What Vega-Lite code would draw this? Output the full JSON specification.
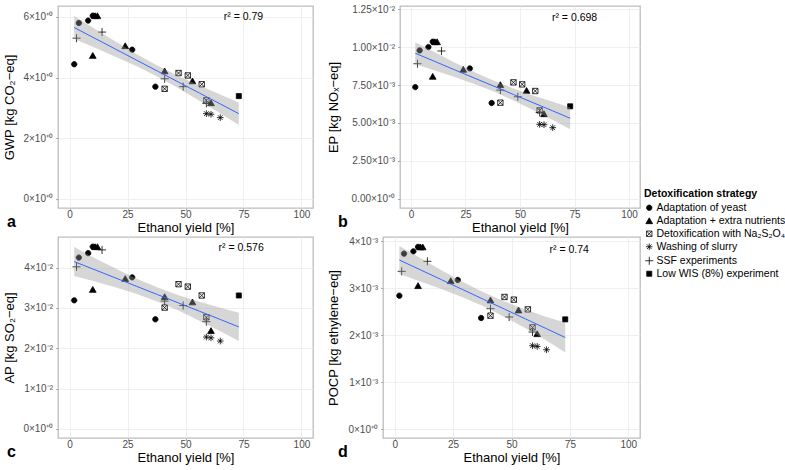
{
  "$schema": "https://vega.github.io/schema/vega-lite/v6.json",
  "padding": {"left": 2, "top": 3, "right": 0, "bottom": 0},
  "background": "white",
  "config": {
    "font": "Liberation Sans",
    "view": {"stroke": "#bdbdbd", "strokeWidth": 1.3},
    "axis": {"labelFont": "Liberation Sans", "titleFont": "Liberation Sans", "labelFontSize": 10, "labelColor": "#4d4d4d", "titleFontSize": 13, "titleFontWeight": "normal", "titleColor": "#000000", "gridColor": "#ebebeb", "gridWidth": 0.8, "domain": false, "tickColor": "#999999", "tickSize": 2.5, "tickWidth": 0.8},
    "axisX": {"labelPadding": -1, "titlePadding": 0, "minExtent": 13, "maxExtent": 13},
    "axisY": {"labelPadding": 3},
    "legend": {"titleFont": "Liberation Sans", "labelFont": "Liberation Sans", "titleFontSize": 10.5, "titleFontWeight": "bold", "titleColor": "#000000", "labelFontSize": 10.5, "labelColor": "#000000", "symbolSize": 45, "rowPadding": 2, "titlePadding": 3, "labelOffset": 2, "symbolStrokeWidth": 0.8},
    "title": {"font": "Liberation Sans", "fontSize": 16, "fontWeight": "bold", "color": "#000000"}
  },
  "datasets": {
    "pts": [
      {"strategy": "Adaptation of yeast", "yield": 2, "GWP": 4.44, "EP": 0.00737, "AP": 0.0319, "POCP": 0.00284},
      {"strategy": "Adaptation of yeast", "yield": 4, "GWP": 5.80, "EP": 0.00979, "AP": 0.0425, "POCP": 0.003736},
      {"strategy": "Adaptation of yeast", "yield": 8, "GWP": 5.88, "EP": 0.01001, "AP": 0.0436, "POCP": 0.003785},
      {"strategy": "Adaptation of yeast", "yield": 10, "GWP": 6.04, "EP": 0.01036, "AP": 0.0452, "POCP": 0.003879},
      {"strategy": "Adaptation of yeast", "yield": 27, "GWP": 4.92, "EP": 0.00860, "AP": 0.0376, "POCP": 0.003175},
      {"strategy": "Adaptation of yeast", "yield": 37, "GWP": 3.70, "EP": 0.00632, "AP": 0.0272, "POCP": 0.002365},
      {"strategy": "Adaptation + extra nutrients", "yield": 10, "GWP": 4.73, "EP": 0.00808, "AP": 0.0346, "POCP": 0.003054},
      {"strategy": "Adaptation + extra nutrients", "yield": 11, "GWP": 6.04, "EP": 0.01036, "AP": 0.0452, "POCP": 0.003879},
      {"strategy": "Adaptation + extra nutrients", "yield": 12, "GWP": 6.04, "EP": 0.01036, "AP": 0.0452, "POCP": 0.003879},
      {"strategy": "Adaptation + extra nutrients", "yield": 24, "GWP": 5.05, "EP": 0.00854, "AP": 0.0373, "POCP": 0.00316},
      {"strategy": "Adaptation + extra nutrients", "yield": 41, "GWP": 4.22, "EP": 0.00753, "AP": 0.0328, "POCP": 0.002749},
      {"strategy": "Adaptation + extra nutrients", "yield": 53, "GWP": 3.89, "EP": 0.00715, "AP": 0.0315, "POCP": 0.002536},
      {"strategy": "Adaptation + extra nutrients", "yield": 61, "GWP": 3.17, "EP": 0.00561, "AP": 0.0244, "POCP": 0.002031},
      {"strategy": "Detoxification with Na₂S₂O₄", "yield": 41, "GWP": 3.63, "EP": 0.00634, "AP": 0.0301, "POCP": 0.002415},
      {"strategy": "Detoxification with Na₂S₂O₄", "yield": 47, "GWP": 4.15, "EP": 0.00768, "AP": 0.0359, "POCP": 0.002813},
      {"strategy": "Detoxification with Na₂S₂O₄", "yield": 51, "GWP": 4.07, "EP": 0.00755, "AP": 0.0353, "POCP": 0.002756},
      {"strategy": "Detoxification with Na₂S₂O₄", "yield": 57, "GWP": 3.78, "EP": 0.00711, "AP": 0.0331, "POCP": 0.002549},
      {"strategy": "Detoxification with Na₂S₂O₄", "yield": 59, "GWP": 3.25, "EP": 0.00583, "AP": 0.0277, "POCP": 0.002165},
      {"strategy": "Washing of slurry", "yield": 59, "GWP": 2.81, "EP": 0.00491, "AP": 0.0228, "POCP": 0.001775},
      {"strategy": "Washing of slurry", "yield": 61, "GWP": 2.79, "EP": 0.00489, "AP": 0.0226, "POCP": 0.00176},
      {"strategy": "Washing of slurry", "yield": 65, "GWP": 2.68, "EP": 0.00469, "AP": 0.0218, "POCP": 0.00169},
      {"strategy": "SSF experiments", "yield": 3, "GWP": 5.30, "EP": 0.00891, "AP": 0.0402, "POCP": 0.003359},
      {"strategy": "SSF experiments", "yield": 14, "GWP": 5.50, "EP": 0.00975, "AP": 0.0444, "POCP": 0.003572},
      {"strategy": "SSF experiments", "yield": 41, "GWP": 3.96, "EP": 0.00717, "AP": 0.0317, "POCP": 0.002564},
      {"strategy": "SSF experiments", "yield": 49, "GWP": 3.70, "EP": 0.00673, "AP": 0.0306, "POCP": 0.002387},
      {"strategy": "SSF experiments", "yield": 59, "GWP": 3.15, "EP": 0.0057, "AP": 0.0266, "POCP": 0.002067},
      {"strategy": "Low WIS (8%) experiment", "yield": 73, "GWP": 3.39, "EP": 0.00610, "AP": 0.0331, "POCP": 0.002336}
    ],
    "fit": [
      {"yield": 2, "GWP_fit": 5.65, "GWP_lo": 5.27, "GWP_hi": 6.03, "EP_fit": 0.00960, "EP_lo": 0.00887, "EP_hi": 0.01033, "AP_fit": 0.0415, "AP_lo": 0.0379, "AP_hi": 0.0451, "POCP_fit": 0.0036, "POCP_lo": 0.0033, "POCP_hi": 0.0039},
      {"yield": 11, "GWP_fit": 5.29, "GWP_lo": 4.98, "GWP_hi": 5.60, "EP_fit": 0.00906, "EP_lo": 0.00846, "EP_hi": 0.00966, "AP_fit": 0.03945, "AP_lo": 0.03655, "AP_hi": 0.04235, "POCP_fit": 0.003391, "POCP_lo": 0.003141, "POCP_hi": 0.003641},
      {"yield": 20, "GWP_fit": 4.93, "GWP_lo": 4.68, "GWP_hi": 5.18, "EP_fit": 0.00851, "EP_lo": 0.00803, "EP_hi": 0.00899, "AP_fit": 0.0374, "AP_lo": 0.03505, "AP_hi": 0.03975, "POCP_fit": 0.003182, "POCP_lo": 0.002982, "POCP_hi": 0.003382},
      {"yield": 29, "GWP_fit": 4.57, "GWP_lo": 4.37, "GWP_hi": 4.77, "EP_fit": 0.00797, "EP_lo": 0.00757, "EP_hi": 0.00837, "AP_fit": 0.03535, "AP_lo": 0.03345, "AP_hi": 0.03725, "POCP_fit": 0.002973, "POCP_lo": 0.002808, "POCP_hi": 0.003138},
      {"yield": 38, "GWP_fit": 4.21, "GWP_lo": 4.03, "GWP_hi": 4.39, "EP_fit": 0.00743, "EP_lo": 0.00707, "EP_hi": 0.00779, "AP_fit": 0.0333, "AP_lo": 0.03155, "AP_hi": 0.03505, "POCP_fit": 0.002763, "POCP_lo": 0.002613, "POCP_hi": 0.002913},
      {"yield": 47, "GWP_fit": 3.85, "GWP_lo": 3.65, "GWP_hi": 4.05, "EP_fit": 0.00688, "EP_lo": 0.00648, "EP_hi": 0.00728, "AP_fit": 0.03125, "AP_lo": 0.02935, "AP_hi": 0.03315, "POCP_fit": 0.002554, "POCP_lo": 0.002389, "POCP_hi": 0.002719},
      {"yield": 56, "GWP_fit": 3.49, "GWP_lo": 3.24, "GWP_hi": 3.74, "EP_fit": 0.00634, "EP_lo": 0.00586, "EP_hi": 0.00682, "AP_fit": 0.0292, "AP_lo": 0.02685, "AP_hi": 0.03155, "POCP_fit": 0.002345, "POCP_lo": 0.002145, "POCP_hi": 0.002545},
      {"yield": 65, "GWP_fit": 3.13, "GWP_lo": 2.82, "GWP_hi": 3.44, "EP_fit": 0.00580, "EP_lo": 0.00520, "EP_hi": 0.00640, "AP_fit": 0.02715, "AP_lo": 0.02425, "AP_hi": 0.03005, "POCP_fit": 0.002136, "POCP_lo": 0.001886, "POCP_hi": 0.002386},
      {"yield": 73, "GWP_fit": 2.81, "GWP_lo": 2.44, "GWP_hi": 3.18, "EP_fit": 0.00531, "EP_lo": 0.00459, "EP_hi": 0.00603, "AP_fit": 0.0253, "AP_lo": 0.0218, "AP_hi": 0.0288, "POCP_fit": 0.00195, "POCP_lo": 0.00163, "POCP_hi": 0.00227}
    ]
  },
  "columns": 2,
  "align": {"column": "none", "row": "all"},
  "bounds": "full",
  "spacing": {"column": 12, "row": 0},
  "concat": [
    {
      "width": 255, "height": 202,
      "title": {"text": "a", "orient": "bottom", "anchor": "start", "frame": "bounds", "offset": -20, "dx": 4},
      "layer": [
        {"data": {"name": "pts"},
         "mark": {"type": "point", "filled": true, "opacity": 1, "strokeWidth": 0.8, "size": 45},
         "encoding": {
           "x": {"field": "yield", "type": "quantitative", "title": "Ethanol yield [%]", "scale": {"domain": [-5, 105], "nice": false, "zero": false}, "axis": {"values": [0, 25, 50, 75, 100]}},
           "y": {"field": "GWP", "type": "quantitative", "title": "GWP [kg CO₂−eq]", "scale": {"domain": [-0.3, 6.36], "nice": false, "zero": false}, "axis": {"values": [0, 2, 4, 6], "labelExpr": "datum.value + '×10⁺⁰'", "minExtent": 42, "maxExtent": 42, "titlePadding": 0}},
           "shape": {"field": "strategy", "type": "nominal", "title": "Detoxification strategy", "scale": {"domain": ["Adaptation of yeast", "Adaptation + extra nutrients", "Detoxification with Na₂S₂O₄", "Washing of slurry", "SSF experiments", "Low WIS (8%) experiment"], "range": ["M0.8,0A0.8,0.8 0 1,1 -0.8,0A0.8,0.8 0 1,1 0.8,0Z", "triangle-up", "M-0.8,-0.8H0.8V0.8H-0.8Z M-0.8,-0.8L0.8,0.8 M-0.8,0.8L0.8,-0.8", "M0,-1V1 M-1,0H1 M-0.7,-0.7L0.7,0.7 M-0.7,0.7L0.7,-0.7", "M0,-1.2V1.2 M-1.2,0H1.2", "M-0.75,-0.75H0.75V0.75H-0.75Z"]}, "legend": {"orient": "none", "legendX": 586, "legendY": 183}},
           "fill": {"field": "strategy", "type": "nominal", "title": "Detoxification strategy", "scale": {"domain": ["Adaptation of yeast", "Adaptation + extra nutrients", "Detoxification with Na₂S₂O₄", "Washing of slurry", "SSF experiments", "Low WIS (8%) experiment"], "range": ["#000000", "#000000", "transparent", "transparent", "transparent", "#000000"]}, "legend": {"orient": "none", "legendX": 586, "legendY": 183}},
           "stroke": {"field": "strategy", "type": "nominal", "title": "Detoxification strategy", "scale": {"domain": ["Adaptation of yeast", "Adaptation + extra nutrients", "Detoxification with Na₂S₂O₄", "Washing of slurry", "SSF experiments", "Low WIS (8%) experiment"], "range": ["#000000", "#000000", "#000000", "#000000", "#000000", "#000000"]}, "legend": {"orient": "none", "legendX": 586, "legendY": 183}}
         }},
        {"data": {"name": "fit"},
         "mark": {"type": "area", "color": "#999999", "opacity": 0.4},
         "encoding": {"x": {"field": "yield", "type": "quantitative", "title": "Ethanol yield [%]"}, "y": {"field": "GWP_lo", "type": "quantitative", "title": "GWP [kg CO₂−eq]"}, "y2": {"field": "GWP_hi"}}},
        {"data": {"name": "fit"},
         "mark": {"type": "line", "color": "#3366FF", "strokeWidth": 1},
         "encoding": {"x": {"field": "yield", "type": "quantitative", "title": "Ethanol yield [%]"}, "y": {"field": "GWP_fit", "type": "quantitative", "title": "GWP [kg CO₂−eq]"}}},
        {"data": {"values": [{"label": "r² = 0.79"}]},
         "mark": {"type": "text", "fontSize": 10.5, "font": "Liberation Sans", "color": "#000000", "align": "center", "baseline": "middle"},
         "encoding": {"x": {"datum": 75}, "y": {"datum": 6.0}, "text": {"field": "label"}}}
      ]
    },
    {
      "width": 240, "height": 202,
      "title": {"text": "b", "orient": "bottom", "anchor": "start", "frame": "bounds", "offset": -20, "dx": 11},
      "layer": [
        {"data": {"name": "pts"},
         "mark": {"type": "point", "filled": true, "opacity": 1, "strokeWidth": 0.8, "size": 45},
         "encoding": {
           "x": {"field": "yield", "type": "quantitative", "title": "Ethanol yield [%]", "scale": {"domain": [-5, 105], "nice": false, "zero": false}, "axis": {"values": [0, 25, 50, 75, 100]}},
           "y": {"field": "EP", "type": "quantitative", "title": "EP [kg NOₓ−eq]", "scale": {"domain": [-0.00061, 0.01272], "nice": false, "zero": false}, "axis": {"values": [0, 0.0025, 0.005, 0.0075, 0.01, 0.0125], "labelExpr": "datum.value == 0 ? '0.00×10⁺⁰' : datum.value < 0.0099 ? format(datum.value*1000, '.2f') + '×10⁻³' : format(datum.value*100, '.2f') + '×10⁻²'", "minExtent": 60, "maxExtent": 60, "titlePadding": 0}},
           "shape": {"field": "strategy", "type": "nominal", "title": "Detoxification strategy", "scale": {"domain": ["Adaptation of yeast", "Adaptation + extra nutrients", "Detoxification with Na₂S₂O₄", "Washing of slurry", "SSF experiments", "Low WIS (8%) experiment"], "range": ["M0.8,0A0.8,0.8 0 1,1 -0.8,0A0.8,0.8 0 1,1 0.8,0Z", "triangle-up", "M-0.8,-0.8H0.8V0.8H-0.8Z M-0.8,-0.8L0.8,0.8 M-0.8,0.8L0.8,-0.8", "M0,-1V1 M-1,0H1 M-0.7,-0.7L0.7,0.7 M-0.7,0.7L0.7,-0.7", "M0,-1.2V1.2 M-1.2,0H1.2", "M-0.75,-0.75H0.75V0.75H-0.75Z"]}, "legend": {"orient": "none", "legendX": 586, "legendY": 183}},
           "fill": {"field": "strategy", "type": "nominal", "title": "Detoxification strategy", "scale": {"domain": ["Adaptation of yeast", "Adaptation + extra nutrients", "Detoxification with Na₂S₂O₄", "Washing of slurry", "SSF experiments", "Low WIS (8%) experiment"], "range": ["#000000", "#000000", "transparent", "transparent", "transparent", "#000000"]}, "legend": {"orient": "none", "legendX": 586, "legendY": 183}},
           "stroke": {"field": "strategy", "type": "nominal", "title": "Detoxification strategy", "scale": {"domain": ["Adaptation of yeast", "Adaptation + extra nutrients", "Detoxification with Na₂S₂O₄", "Washing of slurry", "SSF experiments", "Low WIS (8%) experiment"], "range": ["#000000", "#000000", "#000000", "#000000", "#000000", "#000000"]}, "legend": {"orient": "none", "legendX": 586, "legendY": 183}}
         }},
        {"data": {"name": "fit"},
         "mark": {"type": "area", "color": "#999999", "opacity": 0.4},
         "encoding": {"x": {"field": "yield", "type": "quantitative", "title": "Ethanol yield [%]"}, "y": {"field": "EP_lo", "type": "quantitative", "title": "EP [kg NOₓ−eq]"}, "y2": {"field": "EP_hi"}}},
        {"data": {"name": "fit"},
         "mark": {"type": "line", "color": "#3366FF", "strokeWidth": 1},
         "encoding": {"x": {"field": "yield", "type": "quantitative", "title": "Ethanol yield [%]"}, "y": {"field": "EP_fit", "type": "quantitative", "title": "EP [kg NOₓ−eq]"}}},
        {"data": {"values": [{"label": "r² = 0.698"}]},
         "mark": {"type": "text", "fontSize": 10.5, "font": "Liberation Sans", "color": "#000000", "align": "center", "baseline": "middle"},
         "encoding": {"x": {"datum": 75}, "y": {"datum": 0.01194}, "text": {"field": "label"}}}
      ]
    },
    {
      "width": 255, "height": 201,
      "title": {"text": "c", "orient": "bottom", "anchor": "start", "frame": "bounds", "offset": -20, "dx": 4},
      "layer": [
        {"data": {"name": "pts"},
         "mark": {"type": "point", "filled": true, "opacity": 1, "strokeWidth": 0.8, "size": 45},
         "encoding": {
           "x": {"field": "yield", "type": "quantitative", "title": "Ethanol yield [%]", "scale": {"domain": [-5, 105], "nice": false, "zero": false}, "axis": {"values": [0, 25, 50, 75, 100]}},
           "y": {"field": "AP", "type": "quantitative", "title": "AP [kg SO₂−eq]", "scale": {"domain": [-0.00224, 0.0476], "nice": false, "zero": false}, "axis": {"values": [0, 0.01, 0.02, 0.03, 0.04], "labelExpr": "datum.value == 0 ? '0×10⁺⁰' : format(datum.value*100, '.0f') + '×10⁻²'", "minExtent": 42, "maxExtent": 42, "titlePadding": 0}},
           "shape": {"field": "strategy", "type": "nominal", "title": "Detoxification strategy", "scale": {"domain": ["Adaptation of yeast", "Adaptation + extra nutrients", "Detoxification with Na₂S₂O₄", "Washing of slurry", "SSF experiments", "Low WIS (8%) experiment"], "range": ["M0.8,0A0.8,0.8 0 1,1 -0.8,0A0.8,0.8 0 1,1 0.8,0Z", "triangle-up", "M-0.8,-0.8H0.8V0.8H-0.8Z M-0.8,-0.8L0.8,0.8 M-0.8,0.8L0.8,-0.8", "M0,-1V1 M-1,0H1 M-0.7,-0.7L0.7,0.7 M-0.7,0.7L0.7,-0.7", "M0,-1.2V1.2 M-1.2,0H1.2", "M-0.75,-0.75H0.75V0.75H-0.75Z"]}, "legend": {"orient": "none", "legendX": 586, "legendY": 183}},
           "fill": {"field": "strategy", "type": "nominal", "title": "Detoxification strategy", "scale": {"domain": ["Adaptation of yeast", "Adaptation + extra nutrients", "Detoxification with Na₂S₂O₄", "Washing of slurry", "SSF experiments", "Low WIS (8%) experiment"], "range": ["#000000", "#000000", "transparent", "transparent", "transparent", "#000000"]}, "legend": {"orient": "none", "legendX": 586, "legendY": 183}},
           "stroke": {"field": "strategy", "type": "nominal", "title": "Detoxification strategy", "scale": {"domain": ["Adaptation of yeast", "Adaptation + extra nutrients", "Detoxification with Na₂S₂O₄", "Washing of slurry", "SSF experiments", "Low WIS (8%) experiment"], "range": ["#000000", "#000000", "#000000", "#000000", "#000000", "#000000"]}, "legend": {"orient": "none", "legendX": 586, "legendY": 183}}
         }},
        {"data": {"name": "fit"},
         "mark": {"type": "area", "color": "#999999", "opacity": 0.4},
         "encoding": {"x": {"field": "yield", "type": "quantitative", "title": "Ethanol yield [%]"}, "y": {"field": "AP_lo", "type": "quantitative", "title": "AP [kg SO₂−eq]"}, "y2": {"field": "AP_hi"}}},
        {"data": {"name": "fit"},
         "mark": {"type": "line", "color": "#3366FF", "strokeWidth": 1},
         "encoding": {"x": {"field": "yield", "type": "quantitative", "title": "Ethanol yield [%]"}, "y": {"field": "AP_fit", "type": "quantitative", "title": "AP [kg SO₂−eq]"}}},
        {"data": {"values": [{"label": "r² = 0.576"}]},
         "mark": {"type": "text", "fontSize": 10.5, "font": "Liberation Sans", "color": "#000000", "align": "center", "baseline": "middle"},
         "encoding": {"x": {"datum": 74}, "y": {"datum": 0.0448}, "text": {"field": "label"}}}
      ]
    },
    {
      "width": 257, "height": 201,
      "title": {"text": "d", "orient": "bottom", "anchor": "start", "frame": "bounds", "offset": -20, "dx": 11},
      "layer": [
        {"data": {"name": "pts"},
         "mark": {"type": "point", "filled": true, "opacity": 1, "strokeWidth": 0.8, "size": 45},
         "encoding": {
           "x": {"field": "yield", "type": "quantitative", "title": "Ethanol yield [%]", "scale": {"domain": [-5, 105], "nice": false, "zero": false}, "axis": {"values": [0, 25, 50, 75, 100]}},
           "y": {"field": "POCP", "type": "quantitative", "title": "POCP [kg ethylene−eq]", "scale": {"domain": [-0.00019, 0.00409], "nice": false, "zero": false}, "axis": {"values": [0, 0.001, 0.002, 0.003, 0.004], "labelExpr": "datum.value == 0 ? '0×10⁺⁰' : format(datum.value*1000, '.0f') + '×10⁻³'", "minExtent": 43, "maxExtent": 43, "titlePadding": 0}},
           "shape": {"field": "strategy", "type": "nominal", "title": "Detoxification strategy", "scale": {"domain": ["Adaptation of yeast", "Adaptation + extra nutrients", "Detoxification with Na₂S₂O₄", "Washing of slurry", "SSF experiments", "Low WIS (8%) experiment"], "range": ["M0.8,0A0.8,0.8 0 1,1 -0.8,0A0.8,0.8 0 1,1 0.8,0Z", "triangle-up", "M-0.8,-0.8H0.8V0.8H-0.8Z M-0.8,-0.8L0.8,0.8 M-0.8,0.8L0.8,-0.8", "M0,-1V1 M-1,0H1 M-0.7,-0.7L0.7,0.7 M-0.7,0.7L0.7,-0.7", "M0,-1.2V1.2 M-1.2,0H1.2", "M-0.75,-0.75H0.75V0.75H-0.75Z"]}, "legend": {"orient": "none", "legendX": 586, "legendY": 183}},
           "fill": {"field": "strategy", "type": "nominal", "title": "Detoxification strategy", "scale": {"domain": ["Adaptation of yeast", "Adaptation + extra nutrients", "Detoxification with Na₂S₂O₄", "Washing of slurry", "SSF experiments", "Low WIS (8%) experiment"], "range": ["#000000", "#000000", "transparent", "transparent", "transparent", "#000000"]}, "legend": {"orient": "none", "legendX": 586, "legendY": 183}},
           "stroke": {"field": "strategy", "type": "nominal", "title": "Detoxification strategy", "scale": {"domain": ["Adaptation of yeast", "Adaptation + extra nutrients", "Detoxification with Na₂S₂O₄", "Washing of slurry", "SSF experiments", "Low WIS (8%) experiment"], "range": ["#000000", "#000000", "#000000", "#000000", "#000000", "#000000"]}, "legend": {"orient": "none", "legendX": 586, "legendY": 183}}
         }},
        {"data": {"name": "fit"},
         "mark": {"type": "area", "color": "#999999", "opacity": 0.4},
         "encoding": {"x": {"field": "yield", "type": "quantitative", "title": "Ethanol yield [%]"}, "y": {"field": "POCP_lo", "type": "quantitative", "title": "POCP [kg ethylene−eq]"}, "y2": {"field": "POCP_hi"}}},
        {"data": {"name": "fit"},
         "mark": {"type": "line", "color": "#3366FF", "strokeWidth": 1},
         "encoding": {"x": {"field": "yield", "type": "quantitative", "title": "Ethanol yield [%]"}, "y": {"field": "POCP_fit", "type": "quantitative", "title": "POCP [kg ethylene−eq]"}}},
        {"data": {"values": [{"label": "r² = 0.74"}]},
         "mark": {"type": "text", "fontSize": 10.5, "font": "Liberation Sans", "color": "#000000", "align": "center", "baseline": "middle"},
         "encoding": {"x": {"datum": 74.7}, "y": {"datum": 0.003806}, "text": {"field": "label"}}}
      ]
    }
  ]
}
